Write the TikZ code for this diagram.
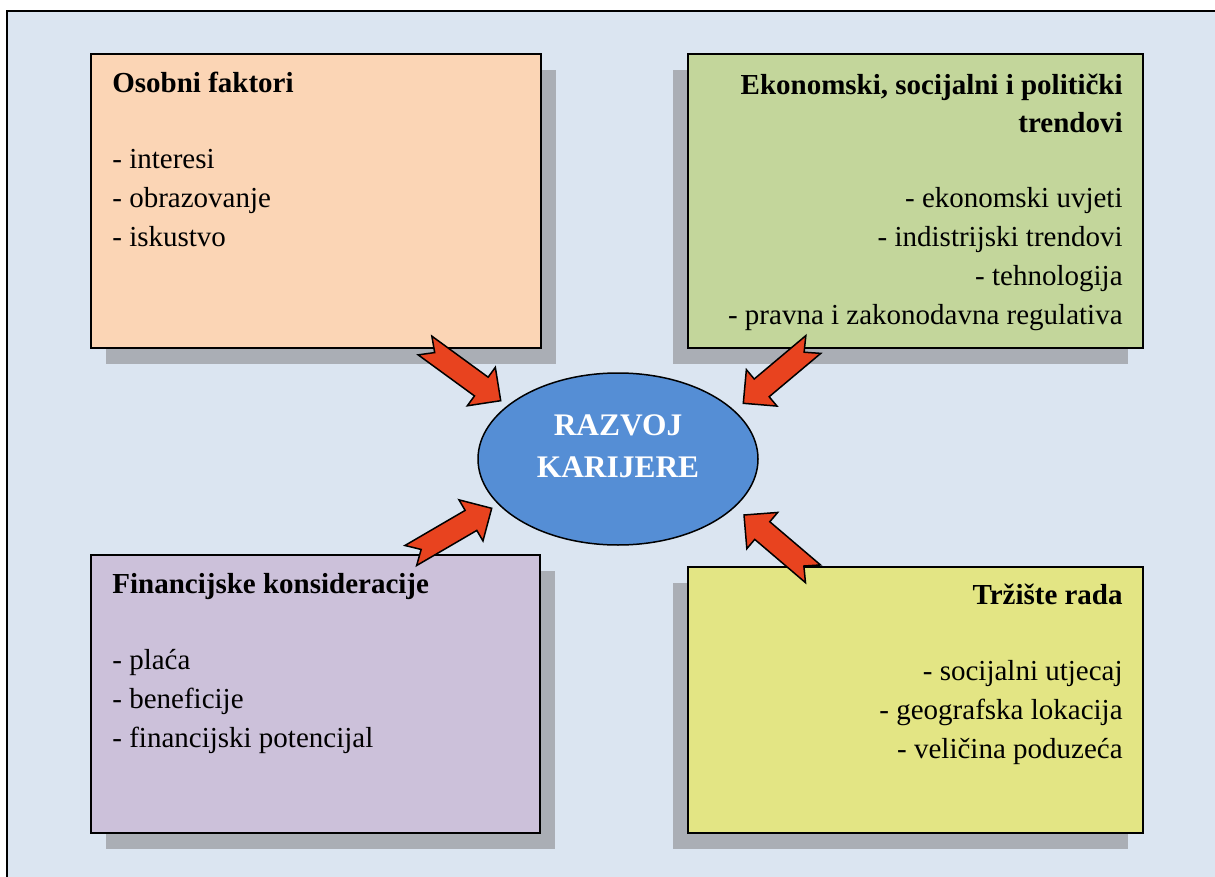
\documentclass[tikz,border=0pt]{standalone}
\usepackage{fontspec}
\setmainfont{Liberation Serif}
\usetikzlibrary{shapes.geometric,shadows,calc}

\definecolor{pozadina}{HTML}{DBE5F1}
\definecolor{narancasta}{HTML}{FBD5B5}
\definecolor{zelena}{HTML}{C3D69B}
\definecolor{ljubicasta}{HTML}{CCC1DA}
\definecolor{zuta}{HTML}{E3E584}
\definecolor{siva}{HTML}{AAAEB5}
\definecolor{plava}{HTML}{558ED5}
\definecolor{crvena}{HTML}{E8431F}

% blok strelica s urezom: #1 rep, #2 vrh
\newcommand{\strelica}[2]{%
  \draw[strelicastil] ($(#1)!5.8pt!90:(#2)$) -- ($(#2)!12pt!(#1)!5.8pt!90:(#2)$)
    -- ($(#2)!12pt!(#1)!11.9pt!90:(#2)$) -- (#2)
    -- ($(#2)!12pt!(#1)!11.9pt!-90:(#2)$) -- ($(#2)!12pt!(#1)!5.8pt!-90:(#2)$)
    -- ($(#1)!5.8pt!-90:(#2)$) -- ($(#1)!6pt!(#2)$) -- cycle;}

\begin{document}
\begin{tikzpicture}[x=0.5pt,y=-0.5pt,
    every node/.style={inner sep=0pt},
    kutija/.style={draw,line width=1pt},
    sjenad/.style={drop shadow={shadow xshift=7.5pt,shadow yshift=-8pt,fill=siva,opacity=1}},
    sjenal/.style={drop shadow={shadow xshift=-7.5pt,shadow yshift=-8pt,fill=siva,opacity=1}},
    naslov/.style={font=\fontsize{14.5pt}{18.8pt}\selectfont\bfseries},
    stavke/.style={font=\fontsize{14.5pt}{19.5pt}\selectfont},
    strelicastil/.style={draw,line width=0.75pt,fill=crvena,line join=miter}]

  \useasboundingbox (0,0) rectangle (1215,877);
  \fill[pozadina] (7,11) rectangle (1215,877);
  \draw[line width=1pt] (7,877) -- (7,11) -- (1215,11);

  \node[kutija,sjenad,fill=narancasta,minimum width=225pt,minimum height=147pt] (osobni) at (316,201) {};
  \node[kutija,sjenal,fill=zelena,minimum width=227.5pt,minimum height=147pt] (trendovi) at (915.5,201) {};
  \node[kutija,sjenad,fill=ljubicasta,minimum width=224.5pt,minimum height=139pt] (financije) at (315.5,694) {};
  \node[kutija,sjenal,fill=zuta,minimum width=227.5pt,minimum height=133pt] (trziste) at (915.5,700) {};

  % base = osnovna linija zadnjeg retka
  \node[naslov,anchor=base west] (osobni-n) at (112,93) {Osobni faktori};
  \node[stavke,anchor=base west,align=left] (osobni-s) at (112,247) {- interesi\\- obrazovanje\\- iskustvo};

  \node[naslov,anchor=base east,align=right] (trendovi-n) at (1123,132.6) {Ekonomski, socijalni i politički\\trendovi};
  \node[stavke,anchor=base east,align=right] (trendovi-s) at (1123,324)
    {- ekonomski uvjeti\\- indistrijski trendovi\\- tehnologija\\- pravna i zakonodavna regulativa};

  \node[naslov,anchor=base west] (financije-n) at (112,593) {Financijske konsideracije};
  \node[stavke,anchor=base west,align=left] (financije-s) at (112,747) {- plaća\\- beneficije\\- financijski potencijal};

  \node[naslov,anchor=base east] (trziste-n) at (1123,604) {Tržište rada};
  \node[stavke,anchor=base east,align=right] (trziste-s) at (1123,758)
    {- socijalni utjecaj\\- geografska lokacija\\- veličina poduzeća};

  \node[draw,ellipse,line width=0.75pt,fill=plava,minimum width=140pt,minimum height=86pt] (karijera) at (618,459) {};
  \node[text=white,align=center,anchor=base,font=\fontsize{15.7pt}{21pt}\selectfont\bfseries] (karijera-n) at (618,477) {RAZVOJ\\KARIJERE};

  \coordinate (r1) at (425,345.5);   \coordinate (v1) at (500.7,400.7);
  \coordinate (r2) at (813.3,344.5); \coordinate (v2) at (743.3,403.3);
  \coordinate (r3) at (410.8,555.5); \coordinate (v3) at (491.7,508.3);
  \coordinate (r4) at (813,573.8);   \coordinate (v4) at (744,515);
  \strelica{r1}{v1}
  \strelica{r2}{v2}
  \strelica{r3}{v3}
  \strelica{r4}{v4}
\end{tikzpicture}
\end{document}
